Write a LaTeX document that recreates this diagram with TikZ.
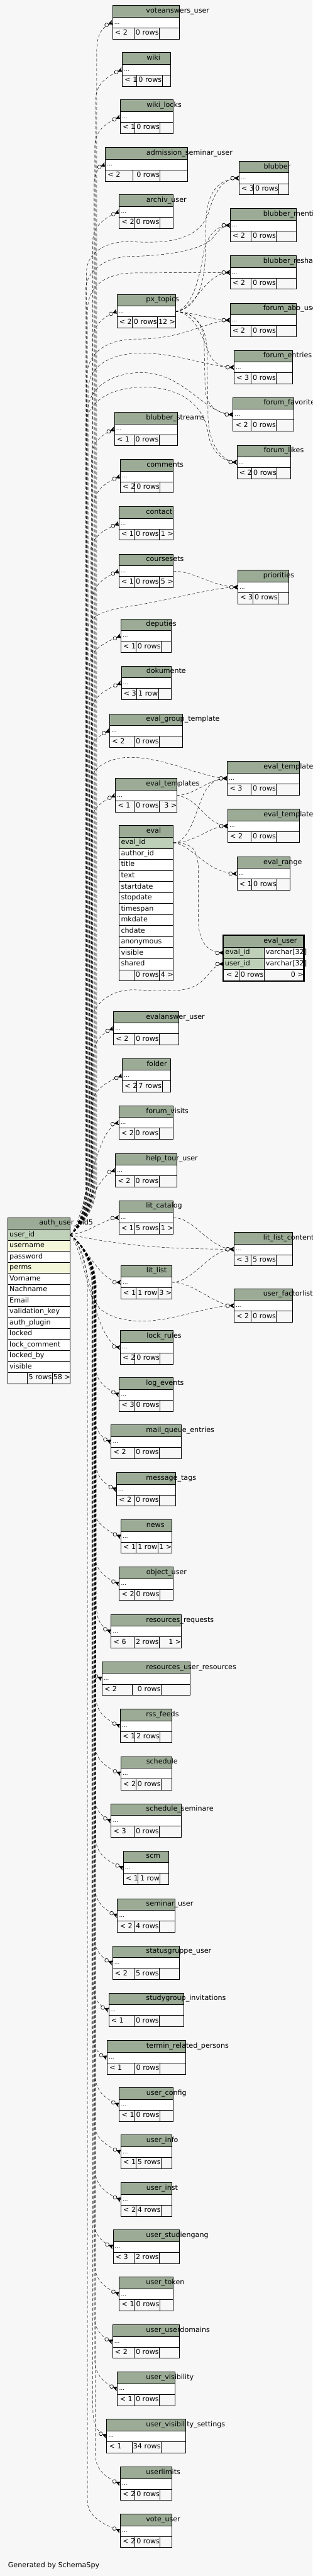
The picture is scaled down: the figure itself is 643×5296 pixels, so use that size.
\documentclass[tikz,border=0pt]{standalone}
\usepackage{fontspec}
\setmainfont{DejaVu Sans}
\usetikzlibrary{calc}

\definecolor{bgcol}{HTML}{F7F7F7}
\definecolor{hdrcol}{HTML}{9BAB96}
\definecolor{keycol}{HTML}{BED1B8}
\definecolor{idxcol}{HTML}{F4F7DA}

\newcommand{\tblfont}{\fontsize{14.4}{16}\selectfont}
\newcommand{\dotsfont}{\fontsize{11}{12}\selectfont}

\pgfdeclarelayer{edgelayer}
\pgfsetlayers{edgelayer,main}

% zero-or-many end: open circle and crow's foot
\pgfarrowsdeclare{crowodot}{crowodot}
{\pgfarrowsleftextend{-17pt}\pgfarrowsrightextend{0.4pt}}
{%
  \pgfsetdash{}{0pt}%
  \pgfsetlinewidth{0.8pt}%
  \pgfpathmoveto{\pgfpoint{-8.5pt}{0pt}}%
  \pgfpathlineto{\pgfpoint{0pt}{4.2pt}}%
  \pgfpathlineto{\pgfpoint{-2.5pt}{0pt}}%
  \pgfpathlineto{\pgfpoint{0pt}{-4.2pt}}%
  \pgfpathclose
  \pgfsetfillcolor{black}%
  \pgfusepathqfillstroke
  \pgfpathcircle{\pgfpoint{-12.5pt}{0pt}}{3.8pt}%
  \pgfsetfillcolor{bgcol}%
  \pgfusepathqfillstroke
}

\tikzset{
  cell/.style={line width=0.8pt},
  celltext/.style={anchor=base west, inner sep=0pt, font=\tblfont},
  cellnum/.style={anchor=base east, inner sep=0pt, font=\tblfont},
  dotstext/.style={anchor=base west, inner sep=0pt, font=\dotsfont},
  fk/.style={dash pattern=on 6pt off 4pt, line width=0.6pt, -crowodot},
}

% table with header, one "..." row and the footer
\newlength{\hdrw}
\newcommand{\dbtable}[9]{%
  \fill[hdrcol] (#2,#4) rectangle (#3,#4+24);
  \fill[white] (#2,#4+24) rectangle (#3,#4+46);
  \draw[cell] (#2,#4) rectangle (#3,#4+69);
  \draw[cell] (#2,#4+24) -- (#3,#4+24) (#2,#4+46) -- (#3,#4+46)
    (#5,#4+46) -- (#5,#4+69) (#6,#4+46) -- (#6,#4+69);
  \settowidth{\hdrw}{\tblfont #7}%
  \pgfmathsetmacro{\hdrx}{(#2+#3)/2-0.442*\hdrw}%
  \node[celltext] (#1) at (\hdrx,#4+15.3) {#7};
  \node[dotstext] at (#2+3.5,#4+38) {…};
  \node[celltext] at (#2+5,#4+61) {#8};
  \node[cellnum] at (#6-0.7,#4+61) {#9};
  \coordinate (#1-in) at (#2,#4+35);
  \coordinate (#1-out) at (#3,#4+35);
  \coordinate (#1-fr) at (#3+0.5,#4+61);
}

\begin{document}
\begin{tikzpicture}[x=1pt,y=-1pt]
\useasboundingbox (0,0) rectangle (643,5296);
\begin{pgfonlayer}{edgelayer}
  \fill[bgcol] (0,0) rectangle (643,5296);
\end{pgfonlayer}

\dbtable{voteanswers}{231.3}{369.5}{11.3}{275.6}{327.5}{voteanswers\_user}{< 2}{0 rows}
\dbtable{wiki}{251.4}{351.4}{108.3}{281.3}{333.4}{wiki}{< 1}{0 rows}
\dbtable{wikilocks}{247.3}{355.5}{205.3}{277.2}{329.3}{wiki\_locks}{< 1}{0 rows}
\dbtable{admission}{216.5}{385.5}{303.3}{273.5}{329.3}{admission\_seminar\_user}{< 2}{0 rows}
\dbtable{blubber}{491.3}{593.4}{331.3}{521.2}{573.3}{blubber}{< 3}{0 rows}
\dbtable{archiv}{245.2}{356.4}{400.3}{276.4}{328.5}{archiv\_user}{< 2}{0 rows}
\dbtable{blubbermentions}{473.2}{609.4}{428.3}{516.7}{568.4}{blubber\_mentions}{< 2}{0 rows}
\dbtable{blubberreshares}{473.2}{609.4}{525.3}{516.7}{568.4}{blubber\_reshares}{< 2}{0 rows}
\dbtable{pxtopics}{240.3}{360.5}{605.3}{271.5}{323.6}{px\_topics}{< 2}{0 rows}
\dbtable{forumabo}{473.2}{609.4}{623.3}{516.7}{568.4}{forum\_abo\_users}{< 2}{0 rows}
\dbtable{forumentries}{481.4}{601.2}{720.3}{516.7}{568.4}{forum\_entries}{< 3}{0 rows}
\dbtable{forumfav}{479.4}{604.5}{817.3}{516.7}{568.4}{forum\_favorites}{< 2}{0 rows}
\dbtable{blubberstreams}{235.4}{365.4}{847.3}{275.6}{327.2}{blubber\_streams}{< 1}{0 rows}
\dbtable{forumlikes}{487.2}{597.5}{915.3}{517.5}{569.6}{forum\_likes}{< 2}{0 rows}
\dbtable{comments}{247.3}{355.5}{944.3}{277.6}{329.3}{comments}{< 2}{0 rows}
\dbtable{contact}{244.4}{356.4}{1041.3}{275.6}{327.7}{contact}{< 1}{0 rows}
\dbtable{coursesets}{244.4}{356.4}{1139.3}{275.6}{327.7}{coursesets}{< 1}{0 rows}
\dbtable{priorities}{489.2}{593.4}{1172.3}{520}{572.1}{priorities}{< 3}{0 rows}
\dbtable{deputies}{248.5}{352.3}{1272.3}{279.3}{331.4}{deputies}{< 1}{0 rows}
\dbtable{dokumente}{249.3}{352.3}{1369.3}{280.5}{325.6}{dokumente}{< 3}{1 row}
\dbtable{evalgroup}{225.5}{375.2}{1467.3}{275.6}{327.7}{eval\_group\_template}{< 2}{0 rows}
\dbtable{evaltpluser}{467.5}{616.4}{1565.3}{516.3}{568.4}{eval\_templates\_user}{< 3}{0 rows}
\dbtable{evaltemplates}{237.4}{363.3}{1600.3}{275.6}{327.7}{eval\_templates}{< 1}{0 rows}
\dbtable{evaltpleval}{468.3}{615.5}{1663.3}{516.3}{568.4}{eval\_templates\_eval}{< 2}{0 rows}
\dbtable{evalrange}{487.2}{596.3}{1761.3}{517.5}{569.6}{eval\_range}{< 1}{0 rows}
\dbtable{evalanswer}{233.3}{367.0}{2079.3}{275.6}{327.7}{evalanswer\_user}{< 2}{0 rows}
\dbtable{folder}{251.4}{351.4}{2176.3}{281.3}{333.4}{folder}{< 2}{7 rows}
\dbtable{forumvisits}{244.4}{356.4}{2273.3}{275.6}{327.2}{forum\_visits}{< 2}{0 rows}
\dbtable{helptour}{237.4}{363.3}{2371.3}{275.6}{327.2}{help\_tour\_user}{< 2}{0 rows}
\dbtable{litcatalog}{244.4}{356.4}{2468.3}{275.6}{327.7}{lit\_catalog}{< 1}{5 rows}
\dbtable{litlistcontent}{481.4}{601.2}{2533.3}{516.7}{568.4}{lit\_list\_content}{< 3}{5 rows}
\dbtable{litlist}{248.5}{353.1}{2601.3}{279.3}{324.4}{lit\_list}{< 1}{1 row}
\dbtable{factorlist}{481.4}{601.2}{2649.3}{516.7}{568.4}{user\_factorlist}{< 2}{0 rows}
\dbtable{lockrules}{247.3}{355.5}{2735.3}{277.6}{329.3}{lock\_rules}{< 2}{0 rows}
\dbtable{logevents}{245.2}{355.5}{2832.3}{276.4}{328.5}{log\_events}{< 3}{0 rows}
\dbtable{mailqueue}{228.4}{372.4}{2929.3}{275.6}{327.7}{mail\_queue\_entries}{< 2}{0 rows}
\dbtable{msgtags}{239.5}{361.3}{3027.3}{275.6}{327.7}{message\_tags}{< 2}{0 rows}
\dbtable{news}{248.5}{353.1}{3124.3}{279.3}{324.4}{news}{< 1}{1 row}
\dbtable{objectuser}{245.2}{356.4}{3221.3}{276.4}{328.5}{object\_user}{< 2}{0 rows}
\dbtable{resrequests}{228.4}{372.4}{3319.3}{275.6}{327.7}{resources\_requests}{< 6}{2 rows}
\dbtable{resuserres}{209.6}{391.2}{3416.3}{271.5}{331.4}{resources\_user\_resources}{< 2}{0 rows}
\dbtable{rssfeeds}{247.3}{353.1}{3513.3}{277.6}{329.3}{rss\_feeds}{< 1}{2 rows}
\dbtable{schedule}{248.5}{353.1}{3611.3}{279.3}{331.4}{schedule}{< 2}{0 rows}
\dbtable{schedsem}{228.4}{372.4}{3708.3}{275.6}{327.7}{schedule\_seminare}{< 3}{0 rows}
\dbtable{scm}{253.4}{347.3}{3805.3}{284.2}{329.3}{scm}{< 1}{1 row}
\dbtable{seminaruser}{241.5}{359.2}{3903.3}{275.6}{327.7}{seminar\_user}{< 2}{4 rows}
\dbtable{statusgruppe}{231.3}{369.5}{4000.3}{275.6}{327.7}{statusgruppe\_user}{< 2}{5 rows}
\dbtable{studygroup}{223.5}{377.3}{4097.3}{275.6}{327.7}{studygroup\_invitations}{< 1}{0 rows}
\dbtable{termin}{220.2}{381.4}{4195.3}{275.6}{328.5}{termin\_related\_persons}{< 1}{0 rows}
\dbtable{userconfig}{245.2}{356.4}{4292.3}{276.4}{328.5}{user\_config}{< 1}{0 rows}
\dbtable{userinfo}{248.5}{353.1}{4389.3}{279.3}{331.4}{user\_info}{< 1}{5 rows}
\dbtable{userinst}{248.5}{353.1}{4487.3}{279.3}{331.4}{user\_inst}{< 2}{4 rows}
\dbtable{studiengang}{232.5}{368.3}{4584.3}{275.6}{327.7}{user\_studiengang}{< 3}{2 rows}
\dbtable{usertoken}{245.2}{355.5}{4681.3}{276.4}{328.5}{user\_token}{< 1}{0 rows}
\dbtable{userdomains}{231.3}{369.5}{4779.3}{275.6}{327.7}{user\_userdomains}{< 2}{0 rows}
\dbtable{uservis}{241.5}{359.2}{4876.3}{275.6}{327.7}{user\_visibility}{< 1}{0 rows}
\dbtable{uservissettings}{219.4}{381.4}{4973.3}{271.5}{331.4}{user\_visibility\_settings}{< 1}{34 rows}
\dbtable{userlimits}{247.3}{353.1}{5071.3}{277.6}{329.3}{userlimits}{< 2}{0 rows}
\dbtable{voteuser}{247.3}{353.1}{5168.3}{277.6}{329.3}{vote\_user}{< 2}{0 rows}

% child counts
\node[cellnum] at (pxtopics-fr) {12 >};
\node[cellnum] at (contact-fr) {1 >};
\node[cellnum] at (coursesets-fr) {5 >};
\node[cellnum] at (evaltemplates-fr) {3 >};
\node[cellnum] at (litcatalog-fr) {1 >};
\node[cellnum] at (litlist-fr) {3 >};
\node[cellnum] at (news-fr) {1 >};
\node[cellnum] at (resrequests-fr) {1 >};

% eval
\fill[hdrcol] (245.2,1697.3) rectangle (356.4,1721.3);
\settowidth{\hdrw}{\tblfont eval}
\pgfmathsetmacro{\hdrx}{300.8-0.442*\hdrw}
\node[celltext] (eval) at (\hdrx,1712.6) {eval};
\foreach \c/\f [count=\i from 0] in {eval\_id/keycol, author\_id/white, title/white, text/white, startdate/white, stopdate/white, timespan/white, mkdate/white, chdate/white, anonymous/white, visible/white, shared/white}{
  \fill[\f] (245.2,1721.3+\i*22.69) rectangle (356.4,1743.99+\i*22.69);
  \draw[cell] (245.2,1721.3+\i*22.69) -- (356.4,1721.3+\i*22.69);
  \node[celltext] at (248.7,1736.3+\i*22.69) {\c};
}
\draw[cell] (245.2,1993.6) -- (356.4,1993.6) (275.6,1993.6) -- (275.6,2016.3) (327.7,1993.6) -- (327.7,2016.3);
\node[cellnum] at (326.9,2008.6) {0 rows};
\node[cellnum] at (356.9,2008.6) {4 >};
\draw[cell] (245.2,1697.3) rectangle (356.4,2016.3);
\coordinate (eval-out) at (356.4,1732.6);

% eval_user, the focused table
\fill[hdrcol] (460,1923.3) rectangle (624,1947.3);
\fill[keycol] (460,1947.3) rectangle (543.4,1993.3);
\fill[white] (543.4,1947.3) rectangle (624,1993.3);
\draw[cell] (460,1947.3) -- (624,1947.3) (460,1970.3) -- (624,1970.3) (460,1993.3) -- (624,1993.3)
  (543.4,1947.3) -- (543.4,2016.3) (491.3,1993.3) -- (491.3,2016.3);
\draw[line width=2.8pt] (458.6,1922.6) rectangle (625.2,2017.2);
\settowidth{\hdrw}{\tblfont eval\_user}
\pgfmathsetmacro{\hdrx}{542-0.442*\hdrw}
\node[celltext] (evaluser) at (\hdrx,1938.6) {eval\_user};
\node[celltext] at (463.3,1962.3) {eval\_id};
\node[celltext] at (546.6,1962.3) {varchar[32]};
\node[celltext] at (462.6,1985.3) {user\_id};
\node[celltext] at (546.6,1985.3) {varchar[32]};
\node[celltext] at (465.5,2008.3) {< 2};
\node[cellnum] at (542.6,2008.3) {0 rows};
\node[cellnum] at (624.5,2008.3) {0 >};
\coordinate (evaluser-e) at (460,1958.8);
\coordinate (evaluser-u) at (460,1981.8);

% auth_user_md5
\fill[hdrcol] (16.4,2503.3) rectangle (144.4,2527.3);
\settowidth{\hdrw}{\tblfont auth\_user\_md5}
\pgfmathsetmacro{\hdrx}{80.4-0.442*\hdrw}
\node[celltext] (auth) at (\hdrx,2518.6) {auth\_user\_md5};
\foreach \c/\f [count=\i from 0] in {user\_id/keycol, username/idxcol, password/white, perms/idxcol, Vorname/white, Nachname/white, Email/white, validation\_key/white, auth\_plugin/white, locked/white, lock\_comment/white, locked\_by/white, visible/white}{
  \fill[\f] (16.4,2527.3+\i*22.64) rectangle (144.4,2549.94+\i*22.64);
  \draw[cell] (16.4,2527.3+\i*22.64) -- (144.4,2527.3+\i*22.64);
  \node[celltext] at (19.5,2542.3+\i*22.64) {\c};
}
\draw[cell] (16.4,2821.6) -- (144.4,2821.6) (55.4,2821.6) -- (55.4,2844.3) (107.4,2821.6) -- (107.4,2844.3);
\node[cellnum] at (106.7,2836.6) {5 rows};
\node[cellnum] at (144.9,2836.6) {58 >};
\draw[cell] (16.4,2503.3) rectangle (144.4,2844.3);
\coordinate (auth-out) at (144.4,2538.6);

\node[celltext] (credit) at (16.4,5279) {Generated by SchemaSpy};

\begin{pgfonlayer}{edgelayer}
% auth_user_md5 -> tables above
\foreach \t/\bx/\yt in {voteanswers/199/46.3, wiki/197/143.3, wikilocks/195/240.3, admission/193/338.3, archiv/191/435.3, pxtopics/190/640.3, blubberstreams/188/882.3, comments/193/979.3, contact/186/1076.3, coursesets/190/1174.3, deputies/184/1307.3, dokumente/188/1404.3, evalgroup/182/1502.3, evaltemplates/186/1635.3, evalanswer/192/2114.3, folder/190/2211.3}
  \draw[fk] (auth-out) .. controls (156,2530) and (\bx,2495) .. (\bx,2430) -- (\bx,\yt+60)
    .. controls (\bx,\yt+25) and ($(\t-in)+(-22,9)$) .. (\t-in);
% auth_user_md5 -> tables below
\foreach \t/\bx/\yt in {logevents/196/2867.3, mailqueue/194/2964.3, msgtags/196/3062.3, news/193/3159.3, objectuser/195/3256.3, resrequests/198/3354.3, resuserres/191/3451.3, rssfeeds/197/3548.3, schedule/195/3646.3, schedsem/193/3743.3, scm/197/3840.3, seminaruser/195/3938.3, statusgruppe/193/4035.3, studygroup/191/4132.3, termin/189/4230.3, userconfig/196/4327.3, userinfo/194/4424.3, userinst/196/4522.3, studiengang/192/4619.3, usertoken/195/4716.3, userdomains/193/4814.3, uservis/195/4911.3, uservissettings/191/5008.3, userlimits/196/5106.3, voteuser/180/5203.3}
  \draw[fk] (auth-out) .. controls (156,2547) and (\bx,2582) .. (\bx,2647) -- (\bx,\yt-60)
    .. controls (\bx,\yt-25) and ($(\t-in)+(-22,-9)$) .. (\t-in);
% near ones
\draw[fk] (auth-out) .. controls (175,2510) and (195,2318) .. (forumvisits-in);
\draw[fk] (auth-out) .. controls (170,2530) and (192,2418) .. (helptour-in);
\draw[fk] (auth-out) .. controls (190,2532) and (212,2506) .. (litcatalog-in);
\draw[fk] (auth-out) .. controls (178,2560) and (205,2636) .. (litlist-in);
\draw[fk] (auth-out) .. controls (175,2570) and (195,2762) .. (lockrules-in);
% auth_user_md5 -> right column
\draw[fk] (auth-out) .. controls (156,2530) and (178,2495) .. (178,2430) -- (178,560)
  .. controls (178,515) and (225,495) .. (270,497) .. controls (330,500) and (405,500) .. (428,440)
  .. controls (440,400) and (455,366) .. (blubber-in);
\draw[fk] (auth-out) .. controls (156,2530) and (176,2495) .. (176,2430) -- (176,600)
  .. controls (176,550) and (225,528) .. (270,527) .. controls (340,526) and (410,515) .. (435,492)
  .. controls (448,478) and (455,463) .. (blubbermentions-in);
\draw[fk] (auth-out) .. controls (156,2530) and (180,2495) .. (180,2430) -- (180,640)
  .. controls (180,585) and (220,561) .. (280,561) -- (blubberreshares-in);
\draw[fk] (auth-out) .. controls (156,2530) and (178,2495) .. (178,2430) -- (178,780)
  .. controls (178,720) and (225,697) .. (285,697) .. controls (380,697) and (430,658) .. (forumabo-in);
\draw[fk] (auth-out) .. controls (156,2530) and (182,2495) .. (182,2430) -- (182,800)
  .. controls (182,745) and (240,726) .. (290,726) .. controls (370,726) and (430,755) .. (forumentries-in);
\draw[fk] (auth-out) .. controls (156,2530) and (180,2495) .. (180,2430) -- (180,850)
  .. controls (180,790) and (240,766) .. (290,766) .. controls (380,766) and (420,852) .. (forumfav-in);
\draw[fk] (auth-out) .. controls (156,2530) and (176,2495) .. (176,2430) -- (176,880)
  .. controls (176,815) and (245,796) .. (295,796) .. controls (385,796) and (422,845) .. (428,890)
  .. controls (434,930) and (460,950) .. (forumlikes-in);
\draw[fk] (auth-out) .. controls (156,2530) and (179,2495) .. (179,2430) -- (179,1300)
  .. controls (179,1265) and (215,1255) .. (270,1246) .. controls (360,1232) and (440,1207) .. (priorities-in);
\draw[fk] (auth-out) .. controls (156,2530) and (184,2495) .. (184,2430) -- (184,1620)
  .. controls (184,1570) and (235,1557) .. (268,1557) .. controls (340,1557) and (420,1600) .. (evaltpluser-in);
\draw[fk] (auth-out) .. controls (156,2530) and (186,2495) .. (186,2430) -- (186,2110)
  .. controls (186,2060) and (235,2035) .. (270,2035) .. controls (330,2035) and (380,2045) .. (412,2020)
  .. controls (432,2004) and (440,1982) .. (evaluser-u);
\draw[fk] (auth-out) .. controls (250,2560) and (330,2568) .. (litlistcontent-in);
\draw[fk] (auth-out) .. controls (175,2560) and (180,2660) .. (205,2690) .. controls (230,2712) and (270,2717) .. (300,2716)
  .. controls (360,2714) and (430,2684) .. (factorlist-in);
% px_topics -> children
\draw[fk] (pxtopics-out) .. controls (395,638) and (420,600) .. (422,530) -- (424,450)
  .. controls (426,395) and (452,366) .. (blubber-in);
\draw[fk] (pxtopics-out) .. controls (398,635) and (412,560) .. (418,525)
  .. controls (424,485) and (445,463) .. (blubbermentions-in);
\draw[fk] (pxtopics-out) .. controls (400,640) and (420,560) .. (blubberreshares-in);
\draw[fk] (pxtopics-out) .. controls (405,643) and (430,658) .. (forumabo-in);
\draw[fk] (pxtopics-out) .. controls (400,642) and (418,695) .. (428,722)
  .. controls (438,748) and (455,755) .. (forumentries-in);
\draw[fk] (pxtopics-out) .. controls (400,642) and (418,665) .. (420,705) -- (422,800)
  .. controls (424,835) and (450,852) .. (forumfav-in);
\draw[fk] (pxtopics-out) .. controls (405,642) and (425,675) .. (426,720) -- (428,860)
  .. controls (431,920) and (460,950) .. (forumlikes-in);
% other parents
\draw[fk] (coursesets-out) .. controls (400,1174) and (440,1207) .. (priorities-in);
\draw[fk] (evaltemplates-out) .. controls (400,1635) and (430,1600) .. (evaltpluser-in);
\draw[fk] (evaltemplates-out) .. controls (410,1640) and (425,1698) .. (evaltpleval-in);
\draw[fk] (eval-out) .. controls (395,1732) and (405,1650) .. (425,1622)
  .. controls (435,1608) and (448,1600) .. (evaltpluser-in);
\draw[fk] (eval-out) .. controls (405,1732) and (430,1698) .. (evaltpleval-in);
\draw[fk] (eval-out) .. controls (395,1735) and (425,1796) .. (evalrange-in);
\draw[fk] (eval-out) .. controls (395,1733) and (408,1745) .. (408,1790) -- (408,1890)
  .. controls (408,1940) and (430,1959) .. (evaluser-e);
\draw[fk] (litcatalog-out) .. controls (400,2503) and (430,2568) .. (litlistcontent-in);
\draw[fk] (litlist-out) .. controls (400,2636) and (430,2568) .. (litlistcontent-in);
\draw[fk] (litlist-out) .. controls (400,2636) and (440,2684) .. (factorlist-in);
\end{pgfonlayer}
\end{tikzpicture}
\end{document}
